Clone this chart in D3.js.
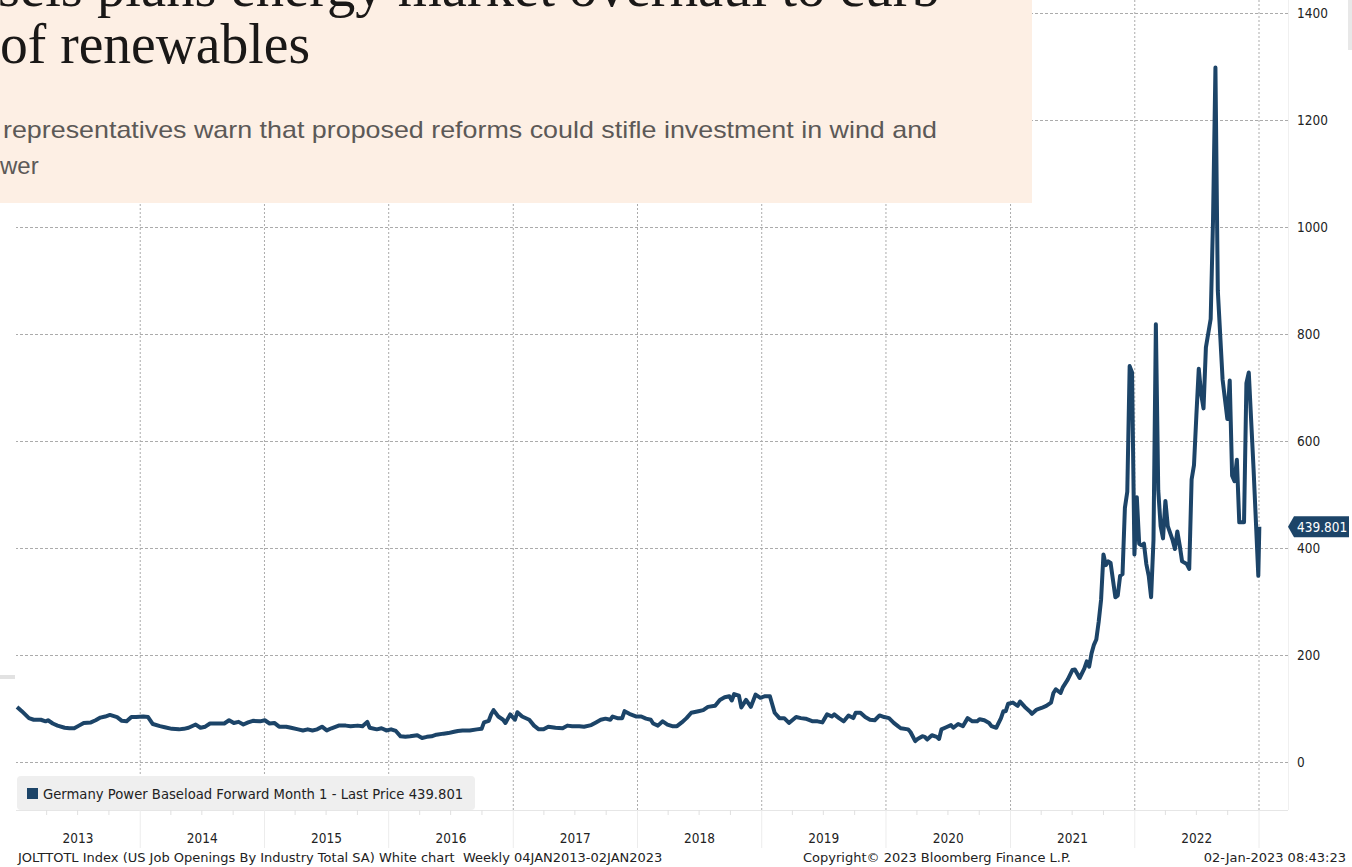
<!DOCTYPE html>
<html>
<head>
<meta charset="utf-8">
<script src="https://cdn.jsdelivr.net/npm/d3@7"></script>
<style>
  body { margin: 0; background: #fff; }
  svg { display: block; }
  .tick text { font-family: "DejaVu Sans Condensed", "DejaVu Sans", sans-serif; }
</style>
</head>
<body>
<svg id="chart" width="1352" height="867"></svg>
<script>
// weekly closes, Germany power baseload front month (EUR/MWh)
const weekDates = [
  "2013-01-04","2013-01-18","2013-02-08","2013-02-22","2013-03-15","2013-03-29","2013-04-05","2013-04-19",
  "2013-05-03","2013-05-24","2013-06-07","2013-06-21","2013-07-05","2013-07-19","2013-08-09","2013-08-23",
  "2013-09-06","2013-09-20","2013-10-04","2013-10-25","2013-11-08","2013-11-22","2013-12-06","2013-12-20",
  "2014-01-10","2014-01-24","2014-02-07","2014-02-28","2014-03-14","2014-04-04","2014-04-25","2014-05-09",
  "2014-05-23","2014-06-13","2014-06-27","2014-07-11","2014-07-25","2014-08-15","2014-09-05","2014-09-19",
  "2014-10-03","2014-10-17","2014-10-31","2014-11-14","2014-11-28","2014-12-19",
  "2015-01-02","2015-01-16","2015-01-30","2015-02-13","2015-03-06","2015-03-20","2015-04-10","2015-04-24",
  "2015-05-08","2015-05-22","2015-06-05","2015-06-19","2015-07-03","2015-07-17","2015-08-07","2015-08-28",
  "2015-09-11","2015-10-02","2015-10-16","2015-10-30","2015-11-06","2015-11-27","2015-12-11","2015-12-25",
  "2016-01-08","2016-01-22","2016-02-05","2016-02-19","2016-03-04","2016-03-25","2016-04-08","2016-04-22",
  "2016-05-06","2016-05-20","2016-06-10","2016-06-24","2016-07-08","2016-07-22","2016-08-05","2016-08-26",
  "2016-09-16","2016-09-30","2016-10-07","2016-10-21","2016-10-28","2016-11-04","2016-11-18","2016-12-02",
  "2016-12-09","2016-12-23",
  "2017-01-06","2017-01-13","2017-01-27","2017-02-17","2017-03-03","2017-03-17","2017-03-31","2017-04-14",
  "2017-05-05","2017-05-26","2017-06-09","2017-06-23","2017-07-14","2017-07-28","2017-08-18","2017-09-01",
  "2017-09-15","2017-09-29","2017-10-13","2017-10-20","2017-11-03","2017-11-17","2017-11-24","2017-12-08",
  "2017-12-29",
  "2018-01-12","2018-01-26","2018-02-09","2018-02-16","2018-03-02","2018-03-16","2018-03-30","2018-04-13",
  "2018-04-27","2018-05-11","2018-05-25","2018-06-08","2018-06-29","2018-07-13","2018-07-27","2018-08-17",
  "2018-08-31","2018-09-14","2018-09-28","2018-10-05","2018-10-12","2018-10-26","2018-11-02","2018-11-16",
  "2018-11-30","2018-12-14","2018-12-28",
  "2019-01-11","2019-01-25","2019-02-08","2019-02-22","2019-03-08","2019-03-22","2019-04-12","2019-04-26",
  "2019-05-10","2019-05-31","2019-06-14","2019-06-28","2019-07-12","2019-07-26","2019-08-02","2019-08-16",
  "2019-08-30","2019-09-13","2019-09-27","2019-10-04","2019-10-18","2019-11-01","2019-11-15","2019-11-29",
  "2019-12-13","2019-12-27",
  "2020-01-10","2020-01-24","2020-02-07","2020-02-14","2020-03-06","2020-03-13","2020-03-27","2020-04-03",
  "2020-04-17","2020-04-24","2020-05-01","2020-05-15","2020-05-29","2020-06-05","2020-06-12","2020-06-26",
  "2020-07-10","2020-07-17","2020-07-31","2020-08-14","2020-08-28","2020-09-11","2020-09-25","2020-10-02",
  "2020-10-16","2020-10-30","2020-11-06","2020-11-20","2020-12-04","2020-12-11","2020-12-18","2020-12-25",
  "2021-01-08","2021-01-22","2021-01-29","2021-02-12","2021-02-26","2021-03-05","2021-03-19","2021-04-02",
  "2021-04-16","2021-04-30","2021-05-07","2021-05-14","2021-05-28","2021-06-04","2021-06-18","2021-07-02",
  "2021-07-09","2021-07-23","2021-08-06","2021-08-13","2021-08-20","2021-08-27","2021-09-03","2021-09-10",
  "2021-09-17","2021-09-24","2021-10-01","2021-10-08","2021-10-15","2021-10-22","2021-11-05","2021-11-12",
  "2021-11-19","2021-11-26","2021-12-03","2021-12-10","2021-12-17","2021-12-24","2021-12-31",
  "2022-01-07","2022-01-14","2022-01-21","2022-01-28","2022-02-04","2022-02-11","2022-02-18","2022-02-25",
  "2022-03-04","2022-03-11","2022-03-18","2022-03-25","2022-04-01","2022-04-08","2022-04-22","2022-04-29",
  "2022-05-06","2022-05-13","2022-05-20","2022-06-03","2022-06-10","2022-06-17","2022-06-24","2022-07-01",
  "2022-07-08","2022-07-15","2022-07-22","2022-07-29","2022-08-12","2022-08-19","2022-08-26","2022-09-02",
  "2022-09-16","2022-09-30","2022-10-07","2022-10-14","2022-10-21","2022-10-28","2022-11-04","2022-11-18",
  "2022-11-25","2022-12-02","2022-12-16","2022-12-30","2023-01-02"
];
const prices = [
  103,95,82,79,79,76,78,72, 68,64,63,63,68,73,74,78, 83,85,88,84,77,76,84,84,
  85,84,71,67,65,62,61,62, 64,70,64,66,72,72,72,78, 73,75,70,74,77,76,
  78,72,73,66,66,64,61,59, 61,59,61,66,59,63,68,68, 67,68,67,75,64,61,63,59,
  61,58,48,47,48,50,45,47, 48,51,53,54,56,58,59,59, 61,62,74,77,89,97,85,79, 73,89,
  79,93,85,79,68,61,61,66, 64,63,68,67,67,66,69,74, 79,81,79,85,82,82,95,90, 85,
  85,81,79,72,68,76,70,67, 67,74,82,92,95,97,103,105, 116,121,123,115,127,124,102,116, 103,126,120,
  123,123,92,82,82,73,84,82, 81,76,76,74,89,85,89,82, 76,87,82,92,92,84,79,78, 87,84,
  82,73,66,63,61,56,39,43, 48,47,42,50,47,43,61,65, 69,64,71,67,82,76,76,80, 78,73,67,64,82,95,95,109,
  111,105,113,103,95,90,98,101, 105,111,129,136,129,140,154,172, 173,157,175,188,178,203,219,229,
  262,303,388,368,375,372,308,311, 348,351,475,505,740,728,388,
  495,408,405,408,370,348,308,415, 818,508,441,418,488,441,415,398,
  431,405,375,370,361,528,555,648, 735,688,661,775,828,1015,1298,881,
  715,641,713,535,525,565,448,448, 708,728,548,348,439.801
];
const yTicks = [0, 200, 400, 600, 800, 1000, 1200, 1400];
const yearLabels = ["2013","2014","2015","2016","2017","2018","2019","2020","2021","2022"];
const lastPrice = "439.801";

const navy = "#1c4468";
const axisFont = "\"DejaVu Sans Condensed\", \"DejaVu Sans\", sans-serif";
const textFont = "\"DejaVu Sans\", sans-serif";

const svg = d3.select("#chart");
const plot = {left: 16, right: 1288, top: 0, bottom: 810};

const parse = d3.timeParse("%Y-%m-%d");
const series = weekDates.map((d, i) => ({date: parse(d), value: prices[i]}));

const x = d3.scaleTime()
  .domain([new Date(2013, 0, 1), new Date(2023, 0, 1)])
  .range([16, 1259]);
const y = d3.scaleLinear()
  .domain([0, 1400])
  .range([762, 13]);

// horizontal grid + right labels
const yAxis = svg.append("g")
  .attr("transform", "translate(" + plot.right + ",0)")
  .call(d3.axisRight(y).tickValues(yTicks).tickFormat(d3.format("d"))
    .tickSize(-(plot.right - plot.left)).tickPadding(9));
yAxis.select(".domain").remove();
yAxis.selectAll(".tick line")
  .attr("stroke", "#ababab")
  .attr("stroke-dasharray", "3,2");
yAxis.selectAll(".tick text")
  .attr("fill", "#222")
  .style("font-size", "13.5px");

// vertical year grid
const years = d3.timeYear.range(new Date(2014, 0, 1), new Date(2023, 0, 2));
svg.append("g")
  .selectAll("line")
  .data(years)
  .enter().append("line")
  .attr("x1", d => x(d)).attr("x2", d => x(d))
  .attr("y1", plot.top).attr("y2", plot.bottom)
  .attr("stroke", "#ababab")
  .attr("stroke-dasharray", "2,2");

// frame lines of plot area
svg.append("line")
  .attr("x1", plot.left).attr("x2", plot.right)
  .attr("y1", plot.bottom + 0.5).attr("y2", plot.bottom + 0.5)
  .attr("stroke", "#e6e6e6");
svg.append("line")
  .attr("x1", plot.right + 0.5).attr("x2", plot.right + 0.5)
  .attr("y1", 0).attr("y2", plot.bottom)
  .attr("stroke", "#f0f0f0");

// x axis below: quarter ticks, year separators, year labels
const quarters = d3.timeMonth.every(3).range(new Date(2013, 0, 1), new Date(2023, 0, 2))
  .filter(d => d.getMonth() !== 0);
svg.append("g")
  .selectAll("line")
  .data(quarters)
  .enter().append("line")
  .attr("x1", d => x(d)).attr("x2", d => x(d))
  .attr("y1", plot.bottom).attr("y2", plot.bottom + 5)
  .attr("stroke", "#e0e0e0");
svg.append("g")
  .selectAll("line")
  .data(years)
  .enter().append("line")
  .attr("x1", d => x(d)).attr("x2", d => x(d))
  .attr("y1", plot.bottom).attr("y2", 848)
  .attr("stroke", "#ececec");
svg.append("g")
  .selectAll("text")
  .data(yearLabels)
  .enter().append("text")
  .attr("x", d => x(new Date(+d, 6, 2)))
  .attr("y", 843)
  .attr("text-anchor", "middle")
  .attr("font-family", axisFont)
  .attr("font-size", "13.5px")
  .attr("fill", "#222")
  .text(d => d);

// legend
svg.append("rect")
  .attr("x", 17).attr("y", 776).attr("width", 458).attr("height", 34)
  .attr("rx", 4)
  .attr("fill", "#efefef");
svg.append("rect")
  .attr("x", 27).attr("y", 788).attr("width", 11).attr("height", 11)
  .attr("fill", navy);
svg.append("text")
  .attr("x", 43).attr("y", 799)
  .attr("font-family", textFont)
  .attr("font-size", "13.2px")
  .attr("fill", "#222")
  .text("Germany Power Baseload Forward Month 1 - Last Price " + lastPrice);

// price line
const line = d3.line()
  .x(d => x(d.date))
  .y(d => y(d.value));
svg.append("path")
  .datum(series)
  .attr("fill", "none")
  .attr("stroke", navy)
  .attr("stroke-width", 4)
  .attr("stroke-linejoin", "round")
  .attr("d", line);

// last price tag
const lastY = y(series[series.length - 1].value);
svg.append("path")
  .attr("d", "M" + plot.right + "," + lastY + " L" + (plot.right + 6) + "," + (lastY - 10.5) +
        " H1349 V" + (lastY + 10.5) + " H" + (plot.right + 6) + " Z")
  .attr("fill", navy);
svg.append("text")
  .attr("x", 1297).attr("y", lastY + 5)
  .attr("font-family", axisFont)
  .attr("font-size", "13.5px")
  .attr("fill", "#fff")
  .text(lastPrice);

// footer
const footer = svg.append("g")
  .attr("font-family", textFont)
  .attr("font-size", "13px")
  .attr("fill", "#222");
footer.append("text")
  .attr("x", 18).attr("y", 862)
  .style("white-space", "pre")
  .text("JOLTTOTL Index (US Job Openings By Industry Total SA) White chart  Weekly 04JAN2013-02JAN2023");
footer.append("text")
  .attr("x", 803).attr("y", 862)
  .text("Copyright\u00a9 2023 Bloomberg Finance L.P.");
footer.append("text")
  .attr("x", 1346).attr("y", 862)
  .attr("text-anchor", "end")
  .text("02-Jan-2023 08:43:23");

// small UI bits of the screenshot
svg.append("rect").attr("x", 0).attr("y", 675).attr("width", 15).attr("height", 4).attr("fill", "#e2e2e2");
svg.append("rect").attr("x", 1348).attr("y", 0).attr("width", 4).attr("height", 50).attr("fill", "#e8e8e8");

// article header pasted over the chart
const header = svg.append("g");
header.append("rect")
  .attr("x", 0).attr("y", 0).attr("width", 1032).attr("height", 203)
  .attr("fill", "#fdefe4");
header.append("text")
  .attr("x", -2).attr("y", 6)
  .attr("font-family", "\"Liberation Serif\", serif")
  .attr("font-size", "56px")
  .attr("textLength", 942)
  .attr("lengthAdjust", "spacingAndGlyphs")
  .attr("fill", "#1a1817")
  .text("sels plans energy market overhaul to curb");
header.append("text")
  .attr("x", 0).attr("y", 63)
  .attr("font-family", "\"Liberation Serif\", serif")
  .attr("font-size", "56px")
  .attr("textLength", 310)
  .attr("lengthAdjust", "spacingAndGlyphs")
  .attr("fill", "#1a1817")
  .text("of renewables");
header.append("text")
  .attr("x", 3).attr("y", 138)
  .attr("font-family", "\"Liberation Sans\", sans-serif")
  .attr("font-size", "24px")
  .attr("textLength", 934)
  .attr("lengthAdjust", "spacingAndGlyphs")
  .attr("fill", "#5c5957")
  .text("representatives warn that proposed reforms could stifle investment in wind and");
header.append("text")
  .attr("x", 0).attr("y", 174)
  .attr("font-family", "\"Liberation Sans\", sans-serif")
  .attr("font-size", "24px")
  .attr("fill", "#5c5957")
  .text("wer");
</script>
</body>
</html>
